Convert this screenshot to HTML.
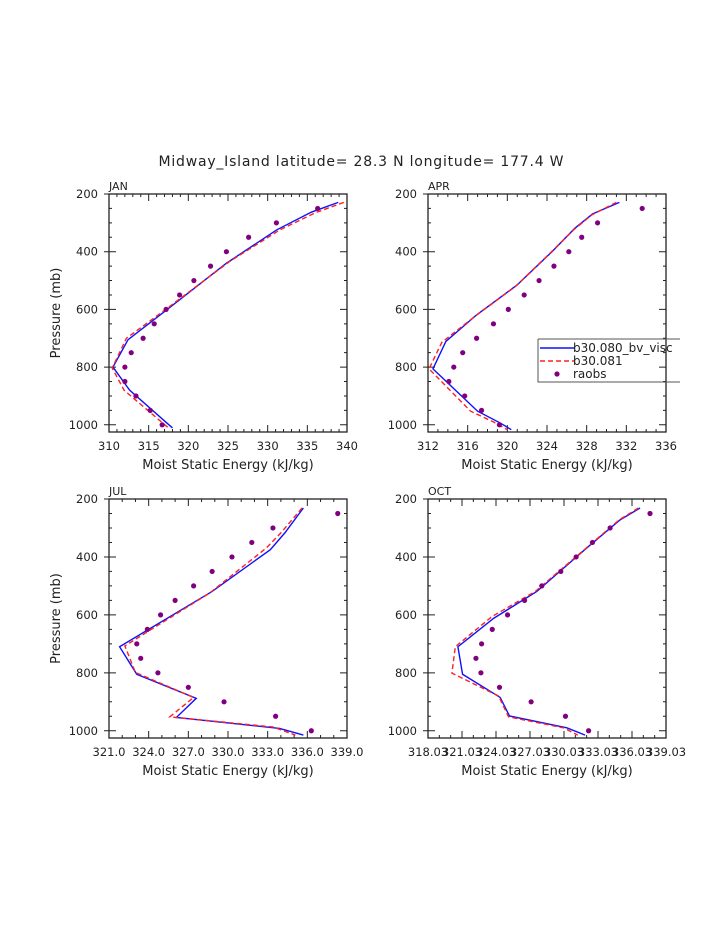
<!DOCTYPE html>
<html><head><meta charset="utf-8"><style>
body{margin:0;background:#fff;width:723px;height:935px;overflow:hidden}
svg text{font-family:"DejaVu Sans","Liberation Sans",sans-serif;fill:#222}
</style></head><body>
<svg id="s" width="723" height="935" xmlns="http://www.w3.org/2000/svg">
<text x="361" y="166" text-anchor="middle" font-size="14" textLength="405">Midway_Island  latitude= 28.3 N longitude= 177.4 W</text>
</svg>
<script>
const panelNames=["JAN","APR","JUL","OCT"];
const xMins=[310,312,321,318.03];
const xMaxs=[340,336,339,339.03];
const xSteps=[5,4,3,3];
const xDigits=[0,0,1,2];
const obsP=[250,300,350,400,450,500,550,600,650,700,750,800,850,900,950,1000];
const janBlueX=[338.9,335.5,331.1,324.8,317.3,312.4,310.5,312.6,318.0];
const janBlueP=[229,263,325,440,601,705,800,880,1011];
const janRedX=[339.6,336.0,331.5,325.2,317.0,312.2,310.4,311.9,317.5];
const janRedP=[229,265,325,434,603,700,803,880,1011];
const janObs=[336.3,331.1,327.6,324.8,322.8,320.7,318.9,317.2,315.7,314.3,312.8,312.0,312.0,313.4,315.2,316.7];
const aprBlueX=[331.3,328.6,326.8,324.5,321.0,316.9,313.8,312.5,317.0,319.3,320.4];
const aprBlueP=[229,269,319,400,515,619,711,806,953,994,1017];
const aprRedX=[331.0,328.5,326.7,324.4,320.8,316.7,313.4,312.1,316.3,318.6,320.0];
const aprRedP=[229,273,324,402,521,625,714,806,953,990,1017];
const aprObs=[333.6,329.1,327.5,326.2,324.7,323.2,321.7,320.1,318.6,316.9,315.5,314.6,314.1,315.7,317.4,319.2];
const julBlueX=[335.7,334.3,333.2,328.8,321.8,323.1,327.6,326.1,333.9,335.7];
const julBlueP=[231,317,375,519,710,805,888,954,992,1015];
const julRedX=[335.6,334.0,332.9,328.6,322.2,323.0,327.4,325.6,333.4,335.1];
const julRedP=[231,317,369,525,707,799,885,952,987,1015];
const julObs=[338.3,333.4,331.8,330.3,328.8,327.4,326.0,324.9,323.9,323.1,323.4,324.7,327.0,329.7,333.6,336.3];
const octBlueX=[336.74,334.98,332.04,327.63,323.82,320.67,321.08,324.40,325.22,330.28,331.9];
const octBlueP=[231,272,369,519,612,710,805,885,949,990,1015];
const octRedX=[336.6,334.9,332.0,327.5,323.67,320.44,320.14,324.26,325.14,330.0,331.24];
const octRedP=[231,272,369,519,606,710,801,880,952,990,1015];
const octObs=[337.62,334.1,332.54,331.1,329.75,328.07,326.55,325.05,323.7,322.76,322.26,322.7,324.34,327.13,330.16,332.2];
const yTicks=[200,400,600,800,1000];
const legendLabels=["b30.080_bv_visc","b30.081","raobs"];
const blueX=[janBlueX,aprBlueX,julBlueX,octBlueX],blueP=[janBlueP,aprBlueP,julBlueP,octBlueP];
const redX=[janRedX,aprRedX,julRedX,octRedX],redP=[janRedP,aprRedP,julRedP,octRedP];
const obsX=[janObs,aprObs,julObs,octObs];
const boxes=[[109,194,347,432],[428,194,666,432],[109,499,347,738],[428,499,666,738]];
const NS="http://www.w3.org/2000/svg",svg=document.getElementById('s');
function mk(t,a,p){const e=document.createElementNS(NS,t);for(const k in a)e.setAttribute(k,a[k]);(p||svg).appendChild(e);return e;}
boxes.forEach((b,i)=>{
 const [L,T,R,B]=b,x0=xMins[i],x1=xMaxs[i];
 const g=mk('g',{});
 
 
 const X=v=>L+(v-x0)/(x1-x0)*(R-L);
 const Y=p=>T+(p-200)/825*(B-T);
 const r=mk('rect',{x:L,y:T,width:R-L,height:B-T,fill:'none',stroke:'#222','stroke-width':1.3},g);
 
 const pl=mk('text',{x:L,y:T-4,'font-size':11},g);pl.textContent=panelNames[i];
 
 let d='';
 for(let v=x0;v<=x1+1e-6;v+=1){const k=Math.abs(((v-x0)/xSteps[i])-Math.round((v-x0)/xSteps[i]))<1e-6,l=k?7:3,x=X(v);d+=`M${x},${B}v${-l}M${x},${T}v${l}`;}
 for(let p=200;p<=1000;p+=50){const k=p%200==0,l=k?7:3,y=Y(p);d+=`M${L-(k?5:0)},${y}h${l+(k?5:0)}M${R},${y}h${-l}`;}
 const tk=mk('path',{d:d,stroke:'#222','stroke-width':1,fill:'none'},g);
 
 for(let v=x0;v<=x1+1e-6;v+=xSteps[i]){const t=mk('text',{x:X(v),y:B+18,'font-size':11.5,'text-anchor':'middle'},g);t.textContent=v.toFixed(xDigits[i]);
  }
 yTicks.forEach(p=>{const t=mk('text',{x:L-11,y:Y(p)+4,'font-size':11.5,'text-anchor':'end'},g);t.textContent=p;
  });
 const xt=mk('text',{x:(L+R)/2,y:B+37,'font-size':13,'text-anchor':'middle'},g);xt.textContent='Moist Static Energy (kJ/kg)';
 
 if(i%2==0){const yt=mk('text',{x:0,y:0,'font-size':13,'text-anchor':'middle',transform:`translate(60,${(T+B)/2}) rotate(-90)`},g);yt.textContent='Pressure (mb)';
  }
 const bl=mk('polyline',{points:blueX[i].map((v,j)=>X(v)+','+Y(blueP[i][j])).join(' '),fill:'none',stroke:'#1010ff','stroke-width':1.4},g);
 
 const rl=mk('polyline',{points:redX[i].map((v,j)=>X(v)+','+Y(redP[i][j])).join(' '),fill:'none',stroke:'#ff2020','stroke-width':1.4,'stroke-dasharray':'5,3'},g);
 
 obsX[i].forEach((v,j)=>{const c=mk('circle',{cx:X(v),cy:Y(obsP[j]),r:2.6,fill:'#800080'},g);
  });
});
const lg=mk('g',{});

mk('clipPath',{id:'lc'},lg).appendChild(mk('rect',{x:538,y:339,width:142,height:44}));
mk('path',{d:'M538,339H680M538,339V382H680',stroke:'#555',fill:'none','stroke-width':1},lg);
const ys=[348,361,374];
legendLabels.forEach((s,k)=>{
 if(k==0)mk('line',{x1:540,y1:ys[k],x2:575,y2:ys[k],stroke:'#1010ff','stroke-width':1.4},lg);
 if(k==1)mk('line',{x1:540,y1:ys[k],x2:575,y2:ys[k],stroke:'#ff2020','stroke-width':1.4,'stroke-dasharray':'5,3'},lg);
 if(k==2)mk('circle',{cx:557,cy:ys[k],r:2.6,fill:'#800080'},lg);
 const t=mk('text',{x:573,y:ys[k]+4,'font-size':12,'clip-path':'url(#lc)'},lg);t.textContent=s;
 
});
</script>
</body></html>
